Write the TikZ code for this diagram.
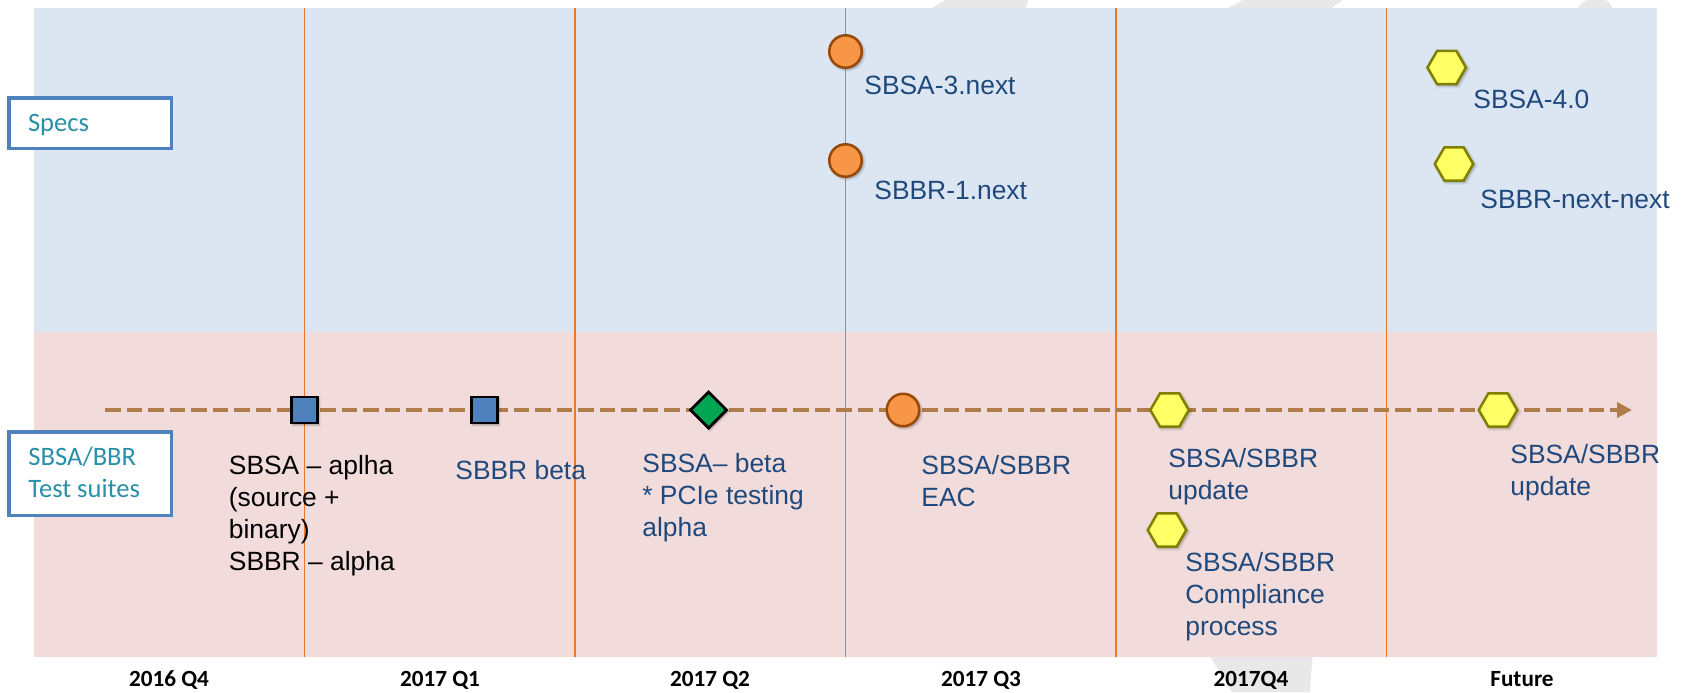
\documentclass[tikz,border=0pt]{standalone}
\usepackage{fontspec}
\setmainfont{Liberation Sans}
\newfontfamily\calibri{Carlito}
\usetikzlibrary{arrows.meta,shapes.geometric,shadows}

\definecolor{specbg}{HTML}{DCE6F2}
\definecolor{suitebg}{HTML}{F2DCDB}
\definecolor{qline}{HTML}{E9782A}
\definecolor{boxblue}{HTML}{4F81BD}
\definecolor{boxtext}{HTML}{2A8FA8}
\definecolor{labelblue}{HTML}{1F497D}
\definecolor{trackbrown}{HTML}{B07C4A}
\definecolor{mkblue}{HTML}{4F81BD}
\definecolor{mkgreen}{HTML}{00A651}
\definecolor{mkorange}{HTML}{F79646}
\definecolor{mkorangeedge}{HTML}{984807}
\definecolor{mkyellow}{HTML}{FFFF66}
\definecolor{mkyellowedge}{HTML}{808000}
\definecolor{watermark}{HTML}{E8E8E8}

\begin{document}
\begin{tikzpicture}[x=0.5pt,y=-0.5pt,
  softshadow/.style={
    general shadow={shadow scale=1.16,shadow xshift=.7pt,shadow yshift=-.7pt,fill=black,opacity=.05},
    general shadow={shadow scale=1.09,shadow xshift=.7pt,shadow yshift=-.7pt,fill=black,opacity=.08},
    general shadow={shadow scale=1.03,shadow xshift=.7pt,shadow yshift=-.7pt,fill=black,opacity=.12}},
  quarterline/.style={draw=qline,line width=0.8pt},
  labelbox/.style={rectangle,draw=boxblue,line width=1.75pt,fill=white,inner sep=0pt},
  % multi-line captions sit on the baseline of their last line
  boxtxt/.style={text=boxtext,font=\calibri\fontsize{13.3}{16}\selectfont,anchor=base west,align=left,inner sep=0pt},
  quarter/.style={font=\calibri\bfseries\fontsize{11.6}{13}\selectfont,anchor=base,inner sep=0pt},
  mstxt/.style={text=labelblue,font=\fontsize{13.2}{16}\selectfont,anchor=base west,align=left,inner sep=0pt},
  track/.style={draw=trackbrown,line width=2.35pt,dash pattern=on 7.75pt off 3pt,
    -{Triangle[length=7.5pt,width=7.5pt]}},
  sqmark/.style={rectangle,draw=black,fill=mkblue,line width=1.35pt,minimum size=13pt,inner sep=0pt,softshadow},
  dmmark/.style={diamond,draw=black,fill=mkgreen,line width=1.4pt,minimum width=18.5pt,minimum height=18.5pt,inner sep=0pt,softshadow},
  ormark/.style={circle,draw=mkorangeedge,fill=mkorange,line width=1.25pt,minimum size=16.25pt,inner sep=0pt,softshadow},
  hxmark/.style={regular polygon,regular polygon sides=6,draw=mkyellowedge,fill=mkyellow,line width=1.25pt,minimum size=19.25pt,inner sep=0pt,softshadow}]

\useasboundingbox (0,0) rectangle (1682,692);

% faint background watermark strokes peeking out around the panels
\fill[watermark] (925,12) -- (945,0) -- (1028,0) -- (1025,12) -- cycle;
\fill[watermark] (1220,12) -- (1243,0) -- (1343,0) -- (1326,12) -- cycle;
\fill[watermark] (1574,12) -- (1583,2) .. controls (1590,-2) and (1602,-2) .. (1609,2) -- (1614,12) -- cycle;
\fill[watermark] (1206,650) -- (1313,650) -- (1310,692) -- (1232,692) -- cycle;

% the two swim lanes
\fill[specbg]  (34,7.5) rectangle (1657,332);
\fill[suitebg] (34,332) rectangle (1657,657);

% quarter separators
\foreach \qx in {304.5,575,845.5,1116,1386.5}
  \draw[quarterline] (\qx,7.5) -- (\qx,657);

% lane titles
\node[labelbox,minimum width=81.25pt,minimum height=25.25pt] (specsbox) at (90,123) {};
\node[boxtxt] (specstxt) at (27.6,131) {Specs};
\node[labelbox,minimum width=81.25pt,minimum height=41.75pt] (suitebox) at (90,473.5) {};
\node[boxtxt] (suitetxt) at (28,497) {SBSA/BBR\\Test suites};

% quarter captions
\node[quarter] (q1) at (169,686.7) {2016 Q4};
\node[quarter] (q2) at (440,686.7) {2017 Q1};
\node[quarter] (q3) at (710,686.7) {2017 Q2};
\node[quarter] (q4) at (981,686.7) {2017 Q3};
\node[quarter] (q5) at (1251,686.7) {2017Q4};
\node[quarter] (q6) at (1522,686.7) {Future};

% test-suite timeline
\coordinate (tstart) at (105,410);
\coordinate (tend) at (1632,410);
\draw[track] (tstart) -- (tend);

% spec milestones
\node[ormark] (sbsa3) at (845.5,51.5) {};
\node[ormark] (sbbr1) at (845.5,160.5) {};
\node[hxmark] (sbsa4) at (1446.7,67.5) {};
\node[hxmark] (sbbrnn) at (1454,164) {};

% test-suite milestones
\node[sqmark] (alpha) at (304.6,410) {};
\node[sqmark] (sbbrbeta) at (484.5,410) {};
\node[dmmark] (sbsabeta) at (708.6,410) {};
\node[ormark] (eac) at (903,410) {};
\node[hxmark] (upd1) at (1169.6,410) {};
\node[hxmark] (upd2) at (1498,410) {};
\node[hxmark] (comp) at (1167,530) {};

% milestone captions
\node[mstxt] (t3next) at (864,94) {SBSA-3.next};
\node[mstxt] (t1next) at (874,199) {SBBR-1.next};
\node[mstxt] (t40) at (1473,108) {SBSA-4.0};
\node[mstxt] (tnn) at (1480,208) {SBBR-next-next};
\node[mstxt,text=black] (talpha) at (228.5,570) {SBSA -- aplha\\(source +\\binary)\\SBBR -- alpha};
\node[mstxt] (tbeta) at (455,479) {SBBR beta};
\node[mstxt] (tpcie) at (642,536) {SBSA-- beta\\* PCIe testing\\alpha};
\node[mstxt] (teac) at (921,506) {SBSA/SBBR\\EAC};
\node[mstxt] (tupd1) at (1168,499) {SBSA/SBBR\\update};
\node[mstxt] (tupd2) at (1510,495) {SBSA/SBBR\\update};
\node[mstxt] (tcomp) at (1185,635) {SBSA/SBBR\\Compliance\\process};
\end{tikzpicture}
\end{document}
